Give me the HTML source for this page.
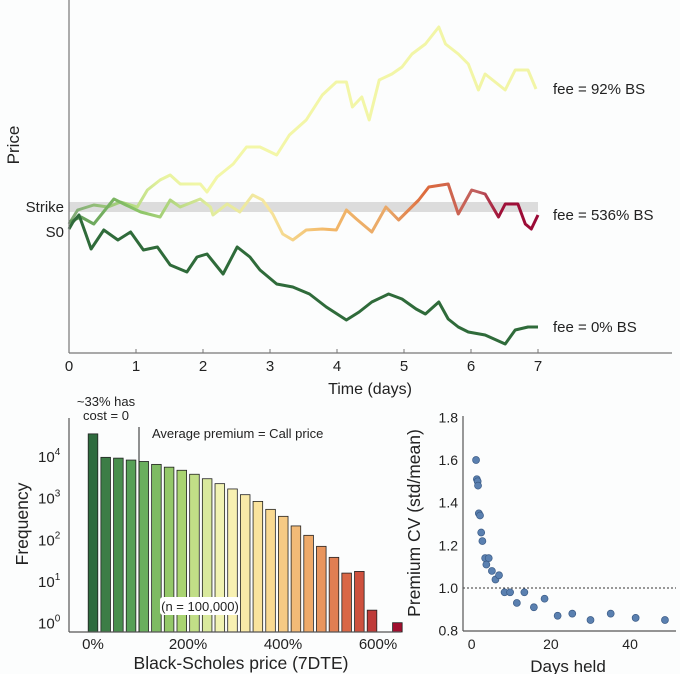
<!DOCTYPE html>
<html><head><meta charset="utf-8"><style>
html,body{margin:0;padding:0;background:#fcfdfd;}
svg{display:block;font-family:"Liberation Sans",sans-serif;}
</style></head><body>
<svg id="chart" width="680" height="674" viewBox="0 0 680 674">
<defs>
<linearGradient id="gradY" gradientUnits="userSpaceOnUse" x1="69" y1="0" x2="538" y2="0">
<stop offset="0" stop-color="#7fa877"/><stop offset="0.12" stop-color="#a9d57a"/><stop offset="0.2" stop-color="#e8f3a0"/><stop offset="0.3" stop-color="#f3f7a8"/><stop offset="1" stop-color="#f2f5a6"/>
</linearGradient>
<linearGradient id="gradO" gradientUnits="userSpaceOnUse" x1="69" y1="0" x2="538" y2="0">
<stop offset="0" stop-color="#5e9a58"/><stop offset="0.15" stop-color="#8cc568"/><stop offset="0.3" stop-color="#e0ec9c"/><stop offset="0.42" stop-color="#f6e7a0"/><stop offset="0.55" stop-color="#f3b868"/><stop offset="0.68" stop-color="#e9a868"/><stop offset="0.76" stop-color="#dd6a3c"/><stop offset="0.87" stop-color="#c06060"/><stop offset="0.92" stop-color="#a01038"/><stop offset="1" stop-color="#9a0a36"/>
</linearGradient>
</defs>
<g id="topchart"></g>
<g id="hist"></g>
<g id="scat"></g>
</svg>
<script>
// ---------- top chart data ----------
const yellowT=[0,.13,.37,.58,.77,1.02,1.17,1.36,1.51,1.66,1.96,2.06,2.21,2.45,2.65,2.85,3.10,3.29,3.54,3.78,3.99,4.14,4.23,4.37,4.48,4.63,4.82,4.97,5.12,5.32,5.52,5.62,5.81,5.96,6.11,6.21,6.51,6.66,6.85,6.97];
const yellowP=[129,143,148,146,151,146,163,173,178,169,169,161,176,189,206,206,198,218,233,258,271,271,246,256,233,273,279,286,299,309,326,309,299,289,263,279,263,283,283,264];
const orangeT=[0,.18,.37,.67,.85,1.07,1.36,1.51,1.66,1.96,2.11,2.15,2.36,2.55,2.74,2.89,3.04,3.19,3.34,3.54,3.78,3.99,4.14,4.29,4.52,4.73,4.92,5.22,5.37,5.66,5.81,6.01,6.21,6.41,6.51,6.70,6.81,6.90,7.0];
const orangeP=[131,136,129,154,148,141,136,153,146,154,146,138,149,141,158,153,139,119,113,123,124,123,143,134,121,146,133,153,166,169,139,163,159,136,149,149,129,124,138];
const greenT=[0,.06,.15,.24,.33,.52,.73,.92,1.11,1.32,1.51,1.76,1.91,2.06,2.30,2.51,2.70,2.85,3.10,3.34,3.59,3.84,4.14,4.33,4.52,4.77,4.97,5.18,5.32,5.52,5.66,5.81,5.96,6.21,6.51,6.66,6.85,7.0];
const greenP=[124,131,138,121,104,123,113,121,103,106,88,81,96,99,79,106,96,83,69,66,59,46,33,41,51,59,54,44,39,51,34,26,21,18,9,23,26,26];
const strikeP=146, s0P=121;
const dayTicks=[0,1,2,3,4,5,6,7];
const feeLabels=["fee = 92% BS","fee = 536% BS","fee = 0% BS"];
// ---------- histogram data ----------
const binLabels=["0%","200%","400%","600%"];
const binTickVals=[0,200,400,600];
const binStep=26.7;
const freq=[34000,9300,8900,8000,7400,6300,5400,4550,3650,2850,2170,1620,1180,815,525,357,210,125,68,37,15.5,17,2,0,1];
const avgPremium=100;
const decades=[0,1,2,3,4];
// ---------- scatter data ----------
const daysHeld=[1.1,1.3,1.5,1.6,1.8,2.1,2.4,2.7,3.4,4.3,3.7,5.1,6.0,6.9,8.3,9.7,11.4,13.3,15.7,18.4,21.7,25.4,30.0,35.1,41.4,48.8];
const cv=[1.6,1.51,1.5,1.48,1.35,1.34,1.26,1.22,1.14,1.14,1.11,1.08,1.04,1.06,0.98,0.98,0.93,0.98,0.91,0.95,0.87,0.88,0.85,0.88,0.86,0.85];
const cvTicks=[0.8,1.0,1.2,1.4,1.6,1.8];
const dayTicks2=[0,20,40];

const NS="http://www.w3.org/2000/svg";
function mk(tag,attrs,parent,text){const el=document.createElementNS(NS,tag);for(const k in attrs)el.setAttribute(k,attrs[k]);if(text!==undefined)el.textContent=text;parent.appendChild(el);return el;}

// ===== TOP =====
const topG=document.getElementById('topchart');
const tx=t=>69+t*67;
const ty=p=>353-p;
let e;
e=mk('rect',{x:69,y:ty(strikeP+5),width:469,height:10,fill:'#dcdcdc'},topG);


function pathD(T,P){return T.map((t,i)=>(i?'L':'M')+tx(t).toFixed(1)+','+ty(P[i]).toFixed(1)).join('');}
e=mk('path',{d:pathD(yellowT,yellowP),fill:'none',stroke:'url(#gradY)','stroke-width':3,'stroke-linejoin':'round'},topG);


e=mk('path',{d:pathD(orangeT,orangeP),fill:'none',stroke:'url(#gradO)','stroke-width':3,'stroke-linejoin':'round'},topG);


e=mk('path',{d:pathD(greenT,greenP),fill:'none',stroke:'#2f6b3a','stroke-width':3,'stroke-linejoin':'round'},topG);


e=mk('line',{x1:69,y1:0,x2:69,y2:353,stroke:'#777','stroke-width':1.2},topG);


e=mk('line',{x1:69,y1:353,x2:672,y2:353,stroke:'#777','stroke-width':1.2},topG);


dayTicks.forEach(d=>{
 e=mk('line',{x1:tx(d),y1:349,x2:tx(d),y2:353,stroke:'#777'},topG);
 
 
 e=mk('text',{x:tx(d),y:371,'text-anchor':'middle','font-size':15,fill:'#222'},topG,String(d));
 
 
});
e=mk('text',{x:370,y:394,'text-anchor':'middle','font-size':16,fill:'#222'},topG,'Time (days)');


e=mk('text',{x:19,y:145,'text-anchor':'middle','font-size':17,fill:'#222',transform:'rotate(-90 19 145)'},topG,'Price');


e=mk('text',{x:64,y:ty(strikeP)+5,'text-anchor':'end','font-size':15,fill:'#222'},topG,'Strike');


e=mk('text',{x:64,y:ty(s0P)+5,'text-anchor':'end','font-size':15,fill:'#222'},topG,'S0');


const ends=[yellowP[yellowP.length-1],orangeP[orangeP.length-1],greenP[greenP.length-1]];
feeLabels.forEach((l,i)=>{
 e=mk('text',{x:553,y:ty(ends[i])+5,'font-size':15,fill:'#222'},topG,l);
 
 
});

// ===== HISTOGRAM =====
const hist=document.getElementById('hist');
const hx=v=>93+v*0.475;
const hy=v=>622.7-Math.log10(v)*41.67;
const base=632;
const stops=[[46,107,62],[93,168,90],[166,210,110],[248,246,185],[250,222,150],[238,168,103],[213,90,64],[160,15,46]];
function cmap(f){const s=f*(stops.length-1);const i=Math.min(Math.floor(s),stops.length-2);const r=s-i;const a=stops[i],b=stops[i+1];return 'rgb('+a.map((c,k)=>Math.round(c+(b[k]-c)*r)).join(',')+')';}
freq.forEach((f,i)=>{
 if(f<=0)return;
 const cx=hx(i*binStep);
 const yt=hy(f);
 e=mk('rect',{x:cx-4.8,y:yt,width:9.6,height:base-yt,fill:cmap(i/(freq.length-1)),stroke:'#222','stroke-width':0.8},hist);
 
 
});
e=mk('line',{x1:69,y1:418,x2:69,y2:base,stroke:'#555','stroke-width':1.2},hist);


e=mk('line',{x1:69,y1:base,x2:401,y2:base,stroke:'#555','stroke-width':1.2},hist);


decades.forEach(d=>{
 e=mk('text',{x:38,y:hy(Math.pow(10,d))+6,'font-size':15,fill:'#222'},hist);
 
 
 mk('tspan',{},e,'10');mk('tspan',{dy:-7,'font-size':10},e,String(d));
});
binTickVals.forEach((v,i)=>{
 e=mk('text',{x:hx(v),y:649,'text-anchor':'middle','font-size':15,fill:'#222'},hist,binLabels[i]);
 
 
});
e=mk('line',{x1:hx(avgPremium)-1.5,y1:427,x2:hx(avgPremium)-1.5,y2:base,stroke:'#222','stroke-width':1},hist);


e=mk('text',{x:152,y:438,'font-size':13,fill:'#222'},hist,'Average premium = Call price');


e=mk('text',{x:106,y:406,'text-anchor':'middle','font-size':13,fill:'#222'},hist);


mk('tspan',{x:106,y:406},e,'~33% has');mk('tspan',{x:106,y:420},e,'cost = 0');
e=mk('rect',{x:160,y:597,width:80,height:18,fill:'#fff',rx:3},hist);


e=mk('text',{x:200,y:611,'text-anchor':'middle','font-size':13,fill:'#222'},hist,'(n = 100,000)');


e=mk('text',{x:241,y:669,'text-anchor':'middle','font-size':17.5,fill:'#222'},hist,'Black-Scholes price (7DTE)');


e=mk('text',{x:28,y:524,'text-anchor':'middle','font-size':17.5,fill:'#222',transform:'rotate(-90 28 524)'},hist,'Frequency');



// ===== SCATTER =====
const sc=document.getElementById('scat');
const sx=d=>471.7+d*3.96;
const sy=v=>630.7-(v-0.8)*213.4;
e=mk('line',{x1:463,y1:sy(1.0),x2:676,y2:sy(1.0),stroke:'#333','stroke-width':1,'stroke-dasharray':'2,2'},sc);


e=mk('line',{x1:463,y1:416,x2:463,y2:631,stroke:'#555','stroke-width':1.2},sc);


e=mk('line',{x1:463,y1:631,x2:676,y2:631,stroke:'#555','stroke-width':1.2},sc);


cvTicks.forEach(v=>{
 e=mk('text',{x:458,y:sy(v)+5,'text-anchor':'end','font-size':14,fill:'#222'},sc,v.toFixed(1));
 
 
});
dayTicks2.forEach(d=>{
 e=mk('text',{x:sx(d),y:649,'text-anchor':'middle','font-size':14,fill:'#222'},sc,String(d));
 
 
});
daysHeld.forEach((d,i)=>{
 e=mk('circle',{cx:sx(d),cy:sy(cv[i]),r:3.5,fill:'#5a80b0',stroke:'#3a5a85','stroke-width':0.7},sc);
 
 
});
e=mk('text',{x:568,y:672,'text-anchor':'middle','font-size':17,fill:'#222'},sc,'Days held');


e=mk('text',{x:420,y:523,'text-anchor':'middle','font-size':17.5,fill:'#222',transform:'rotate(-90 420 523)'},sc,'Premium CV (std/mean)');


</script>
</body></html>
